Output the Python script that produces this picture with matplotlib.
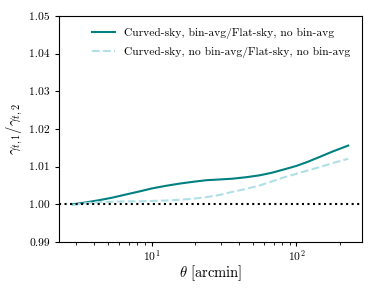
import numpy as np
import matplotlib
matplotlib.use("Agg")
import matplotlib.pyplot as plt

plt.rcParams['font.family'] = 'serif'
plt.rcParams['font.serif'] = ['cmr10']
plt.rcParams['mathtext.fontset'] = 'cm'
plt.rcParams['axes.formatter.use_mathtext'] = True

theta = [2.86, 3.5, 4.35, 5.4, 6.64, 8.2, 10.0, 12.5, 15.6, 19.5, 23.8, 29.5, 36.0, 45.0, 55.7, 68.0, 81.0, 100.0, 120.0, 145.0, 180.0, 228.0]
ratio_binavg = [1.0000, 1.0005, 1.0011, 1.0018, 1.0026, 1.0034, 1.0042, 1.0049, 1.0055, 1.0060, 1.0064, 1.0066, 1.0068, 1.0072, 1.0077, 1.0084, 1.0092, 1.0102, 1.0113, 1.0126, 1.0141, 1.0156]
ratio_nobinavg = [0.9998, 1.0003, 1.0006, 1.0007, 1.0008, 1.0008, 1.0009, 1.0010, 1.0012, 1.0015, 1.0019, 1.0025, 1.0033, 1.0041, 1.0050, 1.0061, 1.0071, 1.0081, 1.0090, 1.0099, 1.0110, 1.0121]

fig = plt.figure(figsize=(3.74, 2.91), dpi=100)
ax = fig.add_axes([59/374, 1-242/291, (362-59)/374, (242-16)/291])
ax.plot(theta, ratio_binavg, color='#008080', lw=1.5, label='Curved-sky, bin-avg/Flat-sky, no bin-avg')
ax.plot(theta, ratio_nobinavg, color='#b0e0e6', lw=1.5, ls='--', label='Curved-sky, no bin-avg/Flat-sky, no bin-avg')
ax.axhline(1.0, color='black', ls=':', lw=1.5)
ax.set_xscale('log')
ax.set_ylim(0.99, 1.05)
ax.set_yticks([0.99, 1.00, 1.01, 1.02, 1.03, 1.04, 1.05])
ax.set_yticklabels(['0.99', '1.00', '1.01', '1.02', '1.03', '1.04', '1.05'])
ax.tick_params(labelsize=8.3, length=3.2)
ax.tick_params(which='minor', length=1.8)
ax.tick_params(axis='x', pad=1.5)
ax.set_xlabel(r'$\theta\ $[arcmin]', fontsize=10.5, labelpad=0)
ax.set_ylabel(r'$\gamma_{t,1}/\gamma_{t,2}$', fontsize=10.5, labelpad=3)
ax.legend(frameon=False, fontsize=8.3, loc='upper right', handlelength=2.0, borderaxespad=0.6, labelspacing=0.75)
fig.savefig('out.png', dpi=100)
